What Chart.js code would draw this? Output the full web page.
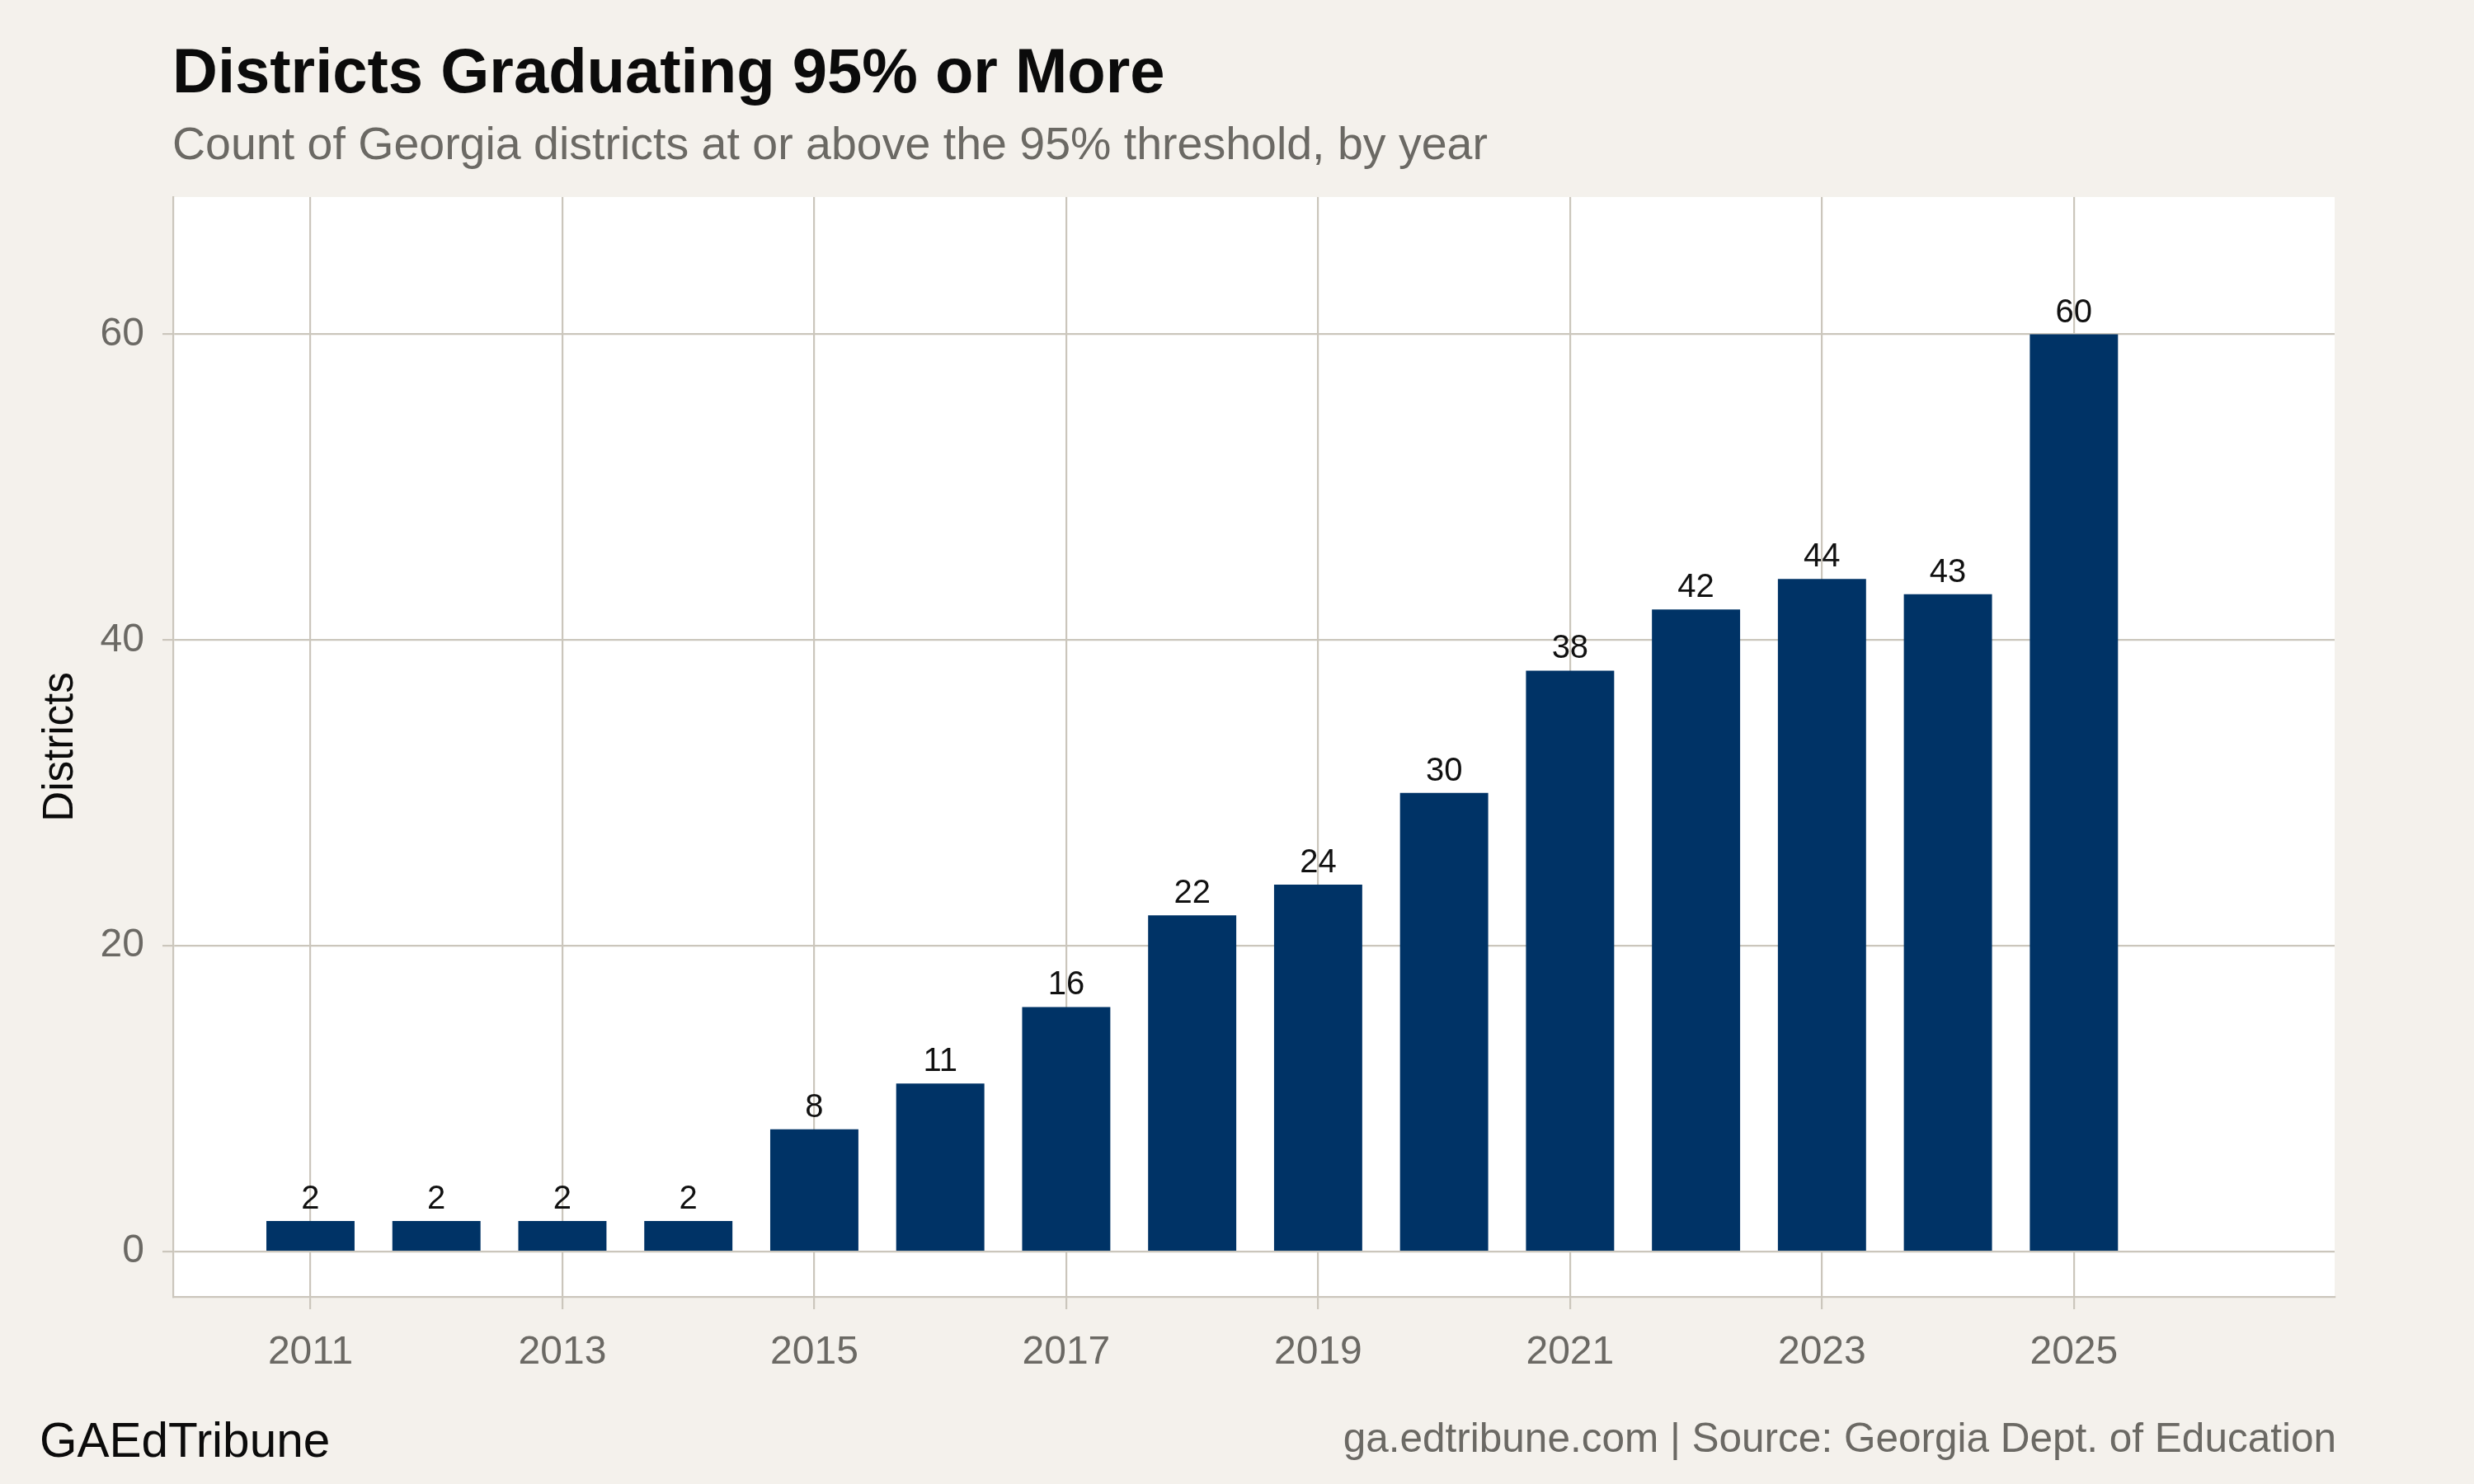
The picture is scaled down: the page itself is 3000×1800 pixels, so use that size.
<!DOCTYPE html>
<html lang="en">
<head>
    <meta charset="UTF-8">
    <title>Districts Graduating 95% or More</title>
    <script src="https://cdn.jsdelivr.net/npm/chart.js"></script>
    <style>
        html, body {
            margin: 0;
            padding: 0;
            background-color: #f4f1ec;
        }
        #chart {
            display: block;
        }
    </style>
</head>
<body>
<canvas id="chart" width="3000" height="1800"></canvas>

<script>
    // data
    const years = [2011, 2012, 2013, 2014, 2015, 2016, 2017, 2018, 2019, 2020, 2021, 2022, 2023, 2024, 2025];
    const districts = [2, 2, 2, 2, 8, 11, 16, 22, 24, 30, 38, 42, 44, 43, 60];
    const xTicks = [2011, 2013, 2015, 2017, 2019, 2021, 2023, 2025];
    const yTicks = [0, 20, 40, 60];

    const titleText = "Districts Graduating 95% or More";
    const subtitleText = "Count of Georgia districts at or above the 95% threshold, by year";
    const brandText = "GAEdTribune";
    const sourceText = "ga.edtribune.com | Source: Georgia Dept. of Education";

    const FONT = "'Liberation Sans', Arial, Helvetica, sans-serif";
    const gridColor = "#cbc6bc";
    const greyText = "#6b6964";

    // cream page + white panel
    const panelBg = {
        id: 'panelBg',
        beforeDraw(chart) {
            let ctx = chart.ctx;
            let a = chart.chartArea;
            ctx.save();
            ctx.fillStyle = "#f4f1ec";
            ctx.fillRect(0, 0, chart.width, chart.height);
            ctx.fillStyle = "#ffffff";
            ctx.fillRect(a.left, a.top, a.right - a.left, a.bottom - a.top);
            ctx.restore();
        }
    };

    // value labels above each bar
    const barLabels = {
        id: 'barLabels',
        afterDatasetsDraw(chart) {
            let ctx = chart.ctx;
            let meta = chart.getDatasetMeta(0);
            ctx.save();
            ctx.font = "40px " + FONT;
            ctx.fillStyle = "#111111";
            ctx.textAlign = "center";
            ctx.textBaseline = "alphabetic";
            meta.data.forEach(function(bar, i) {
                ctx.fillText(String(districts[i]), bar.x, bar.y - 15);
            });
            ctx.restore();
        }
    };

    // title, subtitle and footer lines
    const headings = {
        id: 'headings',
        afterDraw(chart) {
            let ctx = chart.ctx;
            let a = chart.chartArea;
            ctx.save();
            ctx.textBaseline = "alphabetic";
            ctx.textAlign = "left";
            ctx.fillStyle = "#0b0b0b";
            ctx.font = "bold 76px " + FONT;
            ctx.fillText(titleText, a.left - 1, 112);
            ctx.fillStyle = greyText;
            ctx.font = "55.5px " + FONT;
            ctx.fillText(subtitleText, a.left - 1, 193);

            ctx.fillStyle = "#0b0b0b";
            ctx.font = "58.5px " + FONT;
            ctx.fillText(brandText, 48, 1767);
            ctx.fillStyle = greyText;
            ctx.font = "49.5px " + FONT;
            ctx.textAlign = "right";
            ctx.fillText(sourceText, a.right + 2, 1761);
            ctx.restore();
        }
    };

    let ctx = document.getElementById('chart').getContext('2d');
    let myChart = new Chart(ctx, {
        type: 'bar',
        data: {
            datasets: [{
                label: 'Districts',
                data: years.map(function(y, i) { return { x: y, y: districts[i] }; }),
                backgroundColor: '#003366',
                borderWidth: 0,
                barPercentage: 0.7,
                categoryPercentage: 1.0
            }]
        },
        options: {
            responsive: false,
            devicePixelRatio: 1,
            animation: false,
            layout: {
                padding: { left: 0, top: 239, right: 169, bottom: 0 }
            },
            plugins: {
                legend: { display: false },
                tooltip: { enabled: false }
            },
            scales: {
                x: {
                    type: 'linear',
                    min: 2009.91,
                    max: 2027.07,
                    offset: false,
                    afterBuildTicks(scale) {
                        scale.ticks = xTicks.map(v => ({ value: v }));
                    },
                    afterFit(scale) {
                        scale.height = 227;
                    },
                    grid: {
                        color: gridColor,
                        lineWidth: 2.2,
                        tickLength: 15,
                        offset: false
                    },
                    border: {
                        display: true,
                        color: gridColor,
                        width: 2.2
                    },
                    ticks: {
                        color: greyText,
                        font: { family: FONT, size: 48 },
                        padding: 24,
                        maxRotation: 0,
                        callback: v => String(v)
                    }
                },
                y: {
                    min: -2.96,
                    max: 68.98,
                    afterBuildTicks(scale) {
                        scale.ticks = yTicks.map(v => ({ value: v }));
                    },
                    afterFit(scale) {
                        scale.width = 210;
                    },
                    grid: {
                        color: gridColor,
                        lineWidth: 2.2,
                        tickLength: 13
                    },
                    border: {
                        display: true,
                        color: gridColor,
                        width: 2.2
                    },
                    ticks: {
                        color: greyText,
                        font: { family: FONT, size: 48 },
                        padding: 22,
                        callback: v => String(v)
                    },
                    title: {
                        display: true,
                        text: 'Districts',
                        color: '#0b0b0b',
                        font: { family: FONT, size: 51 },
                        padding: { top: 43, bottom: 0 }
                    }
                }
            }
        },
        plugins: [panelBg, barLabels, headings]
    });
</script>
</body>
</html>
